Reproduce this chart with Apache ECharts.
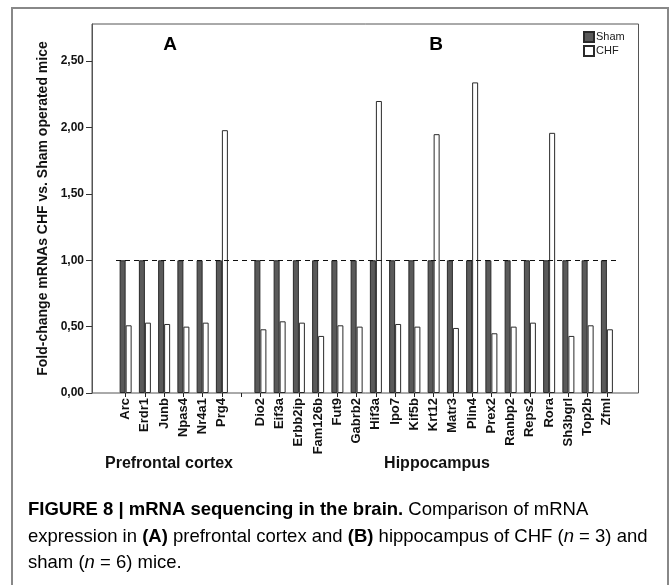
<!DOCTYPE html>
<html>
<head>
<meta charset="utf-8">
<script src="https://cdn.jsdelivr.net/npm/echarts@6/dist/echarts.min.js"></script>
<style>html,body{margin:0;padding:0;background:#fff;}#c{width:671px;height:585px;}</style>
</head>
<body>
<div id="c"></div>
<script>
const categories = ['Arc','Erdr1','Junb','Npas4','Nr4a1','Prg4','',
  'Dio2','Eif3a','Erbb2ip','Fam126b','Fut9','Gabrb2','Hif3a','Ipo7','Kif5b','Krt12','Matr3','Plin4','Prex2','Ranbp2','Reps2','Rora','Sh3bgrl','Top2b','Zfml'];
const shamValues = [1,1,1,1,1,1,null, 1,1,1,1,1,1,1,1,1,1,1,1,1,1,1,1,1,1,1];
const chfValues = [0.51,0.53,0.52,0.50,0.53,1.98,null,
  0.48,0.54,0.53,0.43,0.51,0.50,2.20,0.52,0.50,1.95,0.49,2.34,0.45,0.50,0.53,1.96,0.43,0.51,0.48];
const yTicks = [0,0.5,1,1.5,2,2.5];
const yMax = 2.78;
const refLevel = 1;
const seriesNames = ['Sham','CHF'];
const yTitle = 'Fold-change mRNAs CHF vs. Sham operated mice';
const groupLabels = ['Prefrontal cortex','Hippocampus'];
const panelLabels = ['A','B'];

const chart = echarts.init(document.getElementById('c'), null, {renderer:'canvas'});
const fmt = v => v.toFixed(2).replace('.', ',');
const gTop = 24, gBottom = 585 - 393;

chart.setOption({
  animation: false,
  backgroundColor: '#fff',
  textStyle: {fontFamily: 'Liberation Sans, Arial, sans-serif'},
  grid: [
    {left: 92, right: 32.5, top: gTop, bottom: gBottom, show: true, borderColor: '#555', borderWidth: 1, backgroundColor: 'transparent'},
    {left: 116, right: 54.5, top: gTop, bottom: gBottom}
  ],
  legend: {
    data: seriesNames, orient: 'vertical', left: 583, top: 31,
    itemWidth: 10, itemHeight: 10, itemGap: 2, icon: 'rect',
    textStyle: {fontFamily: 'Liberation Sans Narrow, Liberation Sans, Arial', fontSize: 11, color: '#222', padding: [0,0,0,-3]},
    padding: 0
  },
  xAxis: [
    {type: 'category', gridIndex: 0, data: categories, show: false},
    {type: 'category', gridIndex: 1, data: categories, boundaryGap: true,
     axisLine: {show: false},
     axisTick: {show: true, alignWithLabel: true, length: 4, lineStyle: {color: '#222'}},
     axisLabel: {interval: 0, rotate: 90, margin: 5, fontSize: 13, fontWeight: 'bold', color: '#111'}}
  ],
  yAxis: [
    {type: 'value', gridIndex: 0, min: 0, max: yMax,
     name: yTitle, nameLocation: 'middle', nameGap: 34, nameRotate: 90,
     nameTextStyle: {fontSize: 14, fontWeight: 'bold', color: '#111'},
     splitLine: {show: false},
     axisLine: {show: true, lineStyle: {color: '#555'}},
     axisTick: {show: true, length: 6, customValues: yTicks, lineStyle: {color: '#333'}},
     axisLabel: {customValues: yTicks, formatter: fmt, margin: 8, fontSize: 12, fontWeight: 'bold', color: '#111'}},
    {type: 'value', gridIndex: 1, min: 0, max: yMax, show: false, splitLine: {show: false}}
  ],
  series: [
    {name: seriesNames[0], type: 'bar', xAxisIndex: 1, yAxisIndex: 1, data: shamValues,
     barWidth: 6, barGap: '0%',
     itemStyle: {color: '#5a5a5a', borderColor: '#2a2a2a', borderWidth: 1},
     markLine: {silent: true, symbol: 'none', label: {show: false},
       lineStyle: {color: '#111', type: [5,4], width: 1},
       data: [{yAxis: refLevel}]}},
    {name: seriesNames[1], type: 'bar', xAxisIndex: 1, yAxisIndex: 1, data: chfValues,
     barWidth: 6, barGap: '0%',
     itemStyle: {color: '#fff', borderColor: '#2a2a2a', borderWidth: 1}}
  ],
  graphic: [
    {type: 'rect', shape: {x: 12, y: 8, width: 656, height: 600}, style: {fill: 'none', stroke: '#888', lineWidth: 2}, silent: true, z: -1},
    {type: 'text', style: {text: panelLabels[0], x: 170, y: 45, align: 'center', verticalAlign: 'middle', font: 'bold 19px Liberation Sans, Arial', fill: '#000'}},
    {type: 'text', style: {text: panelLabels[1], x: 436, y: 45, align: 'center', verticalAlign: 'middle', font: 'bold 19px Liberation Sans, Arial', fill: '#000'}},
    {type: 'text', style: {text: groupLabels[0], x: 169, y: 464, align: 'center', verticalAlign: 'middle', font: 'bold 16px Liberation Sans, Arial', fill: '#111'}},
    {type: 'text', style: {text: groupLabels[1], x: 437, y: 464, align: 'center', verticalAlign: 'middle', font: 'bold 16px Liberation Sans, Arial', fill: '#111'}},
    {type: 'text', style: {
      x: 28, y: 497, verticalAlign: 'top',
      text: '{b|FIGURE 8 | mRNA sequencing in the brain.}{n| Comparison of mRNA}\n' +
            '{n|expression in }{b|(A)}{n| prefrontal cortex and }{b|(B)}{n| hippocampus of CHF (}{i|n}{n| = 3) and}\n' +
            '{n|sham (}{i|n}{n| = 6) mice.}',
      rich: {
        b: {fontFamily: 'Liberation Sans, Arial', fontWeight: 'bold', fontSize: 18.5, color: '#111', lineHeight: 26.5},
        n: {fontFamily: 'Liberation Sans, Arial', fontSize: 18.5, color: '#333', lineHeight: 26.5},
        i: {fontFamily: 'Liberation Sans, Arial', fontStyle: 'italic', fontSize: 18.5, color: '#333', lineHeight: 26.5}
      }
    }}
  ]
});
</script>
</body>
</html>
